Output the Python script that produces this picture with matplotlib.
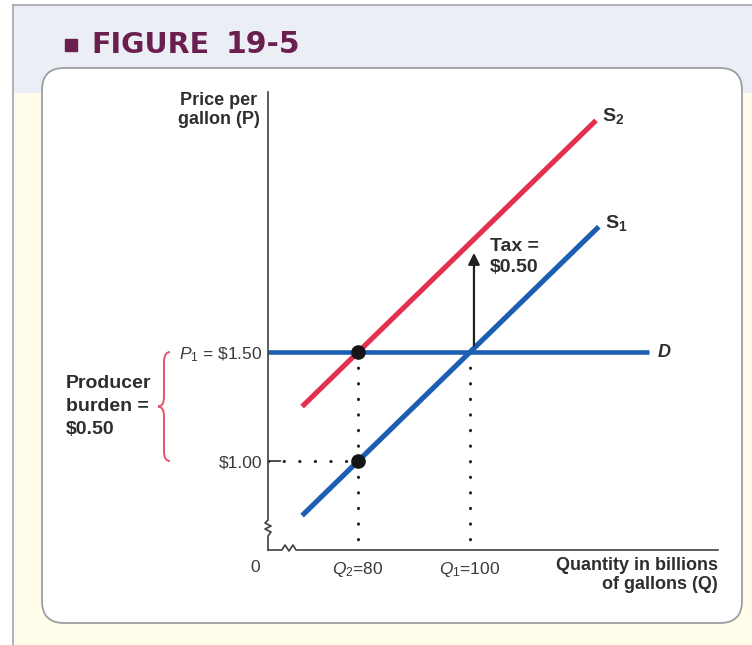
import matplotlib.pyplot as plt
import matplotlib.transforms as mtransforms
from matplotlib.patches import FancyBboxPatch, Rectangle, PathPatch
from matplotlib.path import Path
from matplotlib.lines import Line2D

plt.rcParams['font.family'] = ['Liberation Sans', 'DejaVu Sans']
plt.rcParams['mathtext.fontset'] = 'custom'
plt.rcParams['mathtext.rm'] = 'Liberation Sans'
plt.rcParams['mathtext.it'] = 'Liberation Sans:italic'
plt.rcParams['mathtext.bf'] = 'Liberation Sans:bold'

# market values (quantity in billions of gallons, price per gallon)
q_before = 100      # Q1
q_after = 80        # Q2
p_consumer = 1.50   # P1, demand is flat here
p_producer = 1.00
tax = 0.50

s1_q = [70, 123]
s1_p = [0.75, 2.075]
s2_q = [70, 122.5]
s2_p = [1.25, 2.5625]
d_q_end = 132
tax_arrow_q = 100.7
tax_arrow_p = [1.53, 1.955]

x_range = [63.9, 144.3]
y_range = [0.592, 2.693]

RED = '#e3304f'
BLUE = '#1b5eb2'
INK = '#2e2e2e'
AXIS = '#3f3f3f'
MAROON = '#6b1f4f'

W, H = 752, 645
fig = plt.figure(figsize=(W / 100, H / 100), dpi=100)
fig.patch.set_facecolor('#fffde9')
pix = mtransforms.IdentityTransform()


def py(y):
    # pixel rows counted from the top
    return H - y


# page background, header strip and the white panel
fig.add_artist(Rectangle((0, 0), 13, H, color='white', transform=pix, zorder=-10))
fig.add_artist(Rectangle((0, py(5)), W, 5, color='white', transform=pix, zorder=-10))
fig.add_artist(Rectangle((13, py(92)), W - 13, 87, color='#eceef5', transform=pix, zorder=-10))
fig.add_artist(Line2D([13, 13], [0, py(5)], color='#a9abb2', lw=1.3, transform=pix, zorder=-9))
fig.add_artist(Line2D([13, W], [py(5), py(5)], color='#a9abb2', lw=1.3, transform=pix, zorder=-9))
panel = FancyBboxPatch((42, py(623)), 700, 555, boxstyle='round,pad=0,rounding_size=22',
                       facecolor='white', edgecolor='#9c9ea3', lw=1.3, transform=pix, zorder=-8)
fig.add_artist(panel)

# header
fig.add_artist(Rectangle((65, py(51)), 12, 12, color=MAROON, transform=pix, zorder=5))
fig.text(91, py(53), 'FIGURE', transform=pix, fontsize=20.5, fontweight='bold',
         family='DejaVu Sans', color=MAROON, va='baseline')
fig.text(226, py(53), '19-5', transform=pix, fontsize=21.5, fontweight='bold',
         family='DejaVu Sans', color=MAROON, va='baseline')

ax = fig.add_axes([268 / W, 1 - 550 / H, 450 / W, 458 / H])
ax.patch.set_alpha(0)
ax.set_xlim(*x_range)
ax.set_ylim(*y_range)
for s in ax.spines.values():
    s.set_visible(False)

# axes drawn by hand so the breaks can be shown
x0, y0 = ax.bbox.x0, ax.bbox.y0
x1, y1 = ax.bbox.x1, ax.bbox.y1
yax_x = [x0, x0, x0 - 3, x0 + 3, x0 - 3, x0 + 3, x0, x0]
yax_y = [y1, y0 + 30, y0 + 27, y0 + 24, y0 + 21, y0 + 18, y0 + 14, y0]
xax_x = [x0, x0 + 14, x0 + 17, x0 + 21, x0 + 25, x0 + 28, x1]
xax_y = [y0, y0, y0 + 5, y0 - 1, y0 + 5, y0, y0]
fig.add_artist(Line2D(yax_x, yax_y, color=AXIS, lw=1.2, transform=pix))
fig.add_artist(Line2D(xax_x, xax_y, color=AXIS, lw=1.2, transform=pix))

ax.set_yticks([p_producer, p_consumer],
              labels=['\\$1.00', r'$P_1$ = \$1.50'])
ax.set_xticks([q_after, q_before],
              labels=[r'$Q_2$=80', r'$Q_1$=100'])
ax.tick_params(axis='y', direction='in', length=9, width=1.3, color=AXIS,
               pad=4, labelsize=12.5, labelcolor='#3a3a3a')
ax.tick_params(axis='x', length=0, pad=7, labelsize=12.5, labelcolor='#3a3a3a')
ax.annotate('0', xy=(0, 0), xycoords='axes fraction', xytext=(-13, -18),
            textcoords='offset pixels', ha='center', va='center',
            fontsize=12.5, color='#3a3a3a')

# dotted guides
dots = dict(color='#222222', lw=2.2, linestyle=(0, (0.1, 5)),
            dash_capstyle='round', zorder=2)
ax.plot([q_after, q_after], [p_consumer, y_range[0]], **dots)
ax.plot([q_before, q_before], [p_consumer, y_range[0]], **dots)
ax.plot([x_range[0], q_after], [p_producer, p_producer], **dots)

# curves
ax.plot(s1_q, s1_p, color=BLUE, lw=3.7, solid_capstyle='butt', zorder=3)
ax.plot(s2_q, s2_p, color=RED, lw=3.7, solid_capstyle='butt', zorder=3)
ax.plot([x_range[0], d_q_end], [p_consumer, p_consumer], color=BLUE, lw=3.3,
        solid_capstyle='butt', zorder=3)
ax.plot([q_after, q_after], [p_consumer, p_producer], 'o', color='#151515',
        markersize=9.5, zorder=5)

label = dict(fontsize=13, fontweight='bold', color=INK)
big = dict(fontsize=14, fontweight='bold', color=INK)
ax.annotate(r'$\mathbf{S}_\mathbf{2}$', xy=(s2_q[1], s2_p[1]), xytext=(6, 4),
            textcoords='offset pixels', va='center', ha='left', fontsize=14, color=INK)
ax.annotate(r'$\mathbf{S}_\mathbf{1}$', xy=(s1_q[1], s1_p[1]), xytext=(6, 4),
            textcoords='offset pixels', va='center', ha='left', fontsize=14, color=INK)
ax.annotate('D', xy=(d_q_end, p_consumer), xytext=(9, 0), textcoords='offset pixels',
            va='center', ha='left', style='italic', **label)

# tax arrow
ax.annotate('', xy=(tax_arrow_q, tax_arrow_p[1]), xytext=(tax_arrow_q, tax_arrow_p[0]),
            arrowprops=dict(arrowstyle='-|>', lw=1.6, color='#222222',
                            mutation_scale=17, shrinkA=0, shrinkB=0))
ax.annotate('Tax =\n\\$%.2f' % tax, xy=(tax_arrow_q, tax_arrow_p[1]),
            xytext=(16, -4), textcoords='offset pixels', va='center', ha='left',
            linespacing=1.3, **big)

# axis titles
ax.annotate('Price per\ngallon (P)', xy=(0, 1), xycoords='axes fraction',
            xytext=(-8, 0), textcoords='offset pixels', ha='right', va='top',
            multialignment='center', linespacing=1.15, **label)
ax.annotate('Quantity in billions\nof gallons (Q)', xy=(1, 0), xycoords='axes fraction',
            xytext=(0, -7), textcoords='offset pixels', ha='right', va='top',
            multialignment='right', linespacing=1.15, **label)

# producer burden brace, x in pixels, y in prices
side = mtransforms.blended_transform_factory(pix, ax.transData)
xs = x0 - 104
r = 0.045
p_mid = p_consumer - tax / 2
verts = [(xs + 6, p_consumer), (xs, p_consumer), (xs, p_consumer - r),
         (xs, p_mid + r), (xs, p_mid), (xs - 6, p_mid),
         (xs, p_mid), (xs, p_mid - r),
         (xs, p_producer + r), (xs, p_producer), (xs + 6, p_producer)]
codes = [Path.MOVETO, Path.CURVE3, Path.CURVE3,
         Path.LINETO, Path.CURVE3, Path.CURVE3,
         Path.CURVE3, Path.CURVE3,
         Path.LINETO, Path.CURVE3, Path.CURVE3]
fig.add_artist(PathPatch(Path(verts, codes), fill=False, edgecolor='#e2566f',
                         lw=1.4, transform=side))
ax.text(66, p_mid, 'Producer\nburden =\n\\$%.2f' % (p_consumer - p_producer),
        transform=side, ha='left', va='center', linespacing=1.45, **big)

fig.savefig('out.png', dpi=100, facecolor=fig.get_facecolor())
